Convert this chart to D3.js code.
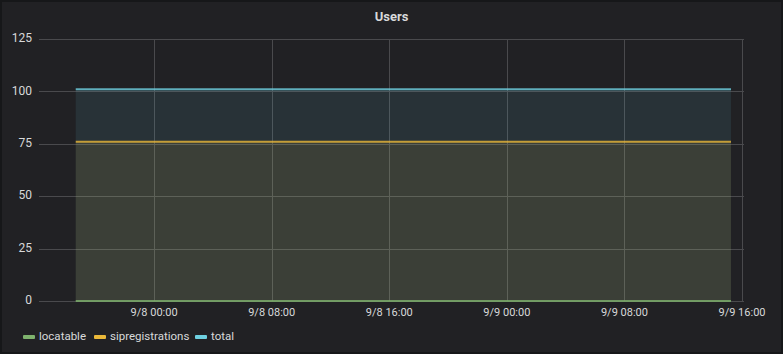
<!DOCTYPE html>
<html>
<head>
<meta charset="utf-8">
<script src="https://cdn.jsdelivr.net/npm/d3@7"></script>
<style>
  html, body { margin: 0; padding: 0; background: #161719; }
  #chart { width: 783px; height: 354px; }
  text { font-family: Roboto, "Helvetica Neue", Arial, sans-serif; }
</style>
</head>
<body>
<div id="chart"></div>
<script>
// Sample times (ISO strings) and values for each series
const times = [
	'2019-09-07T18:40', '2019-09-08T00:00', '2019-09-08T08:00', '2019-09-08T16:00',
	'2019-09-09T00:00', '2019-09-09T08:00', '2019-09-09T15:15'
];
const locatable = [0, 0, 0, 0, 0, 0, 0];
const sipregistrations = [76, 76, 76, 76, 76, 76, 76];
const total = [101, 101, 101, 101, 101, 101, 101];

const seriesNames = ['locatable', 'sipregistrations', 'total'];
const seriesColors = ['#7eb26d', '#eab839', '#6ed0e0'];
const yTicks = [0, 25, 50, 75, 100, 125];
const xTicks = ['2019-09-08T00:00', '2019-09-08T08:00', '2019-09-08T16:00',
	'2019-09-09T00:00', '2019-09-09T08:00', '2019-09-09T16:00'];
const xDomain = ['2019-09-07T16:10', '2019-09-09T16:00'];

const width = 783;
const height = 354;
const marginTop = 39;
const marginRight = 41;
const marginBottom = 53;
const marginLeft = 39;

const parse = d3.timeParse('%Y-%m-%dT%H:%M');
const fmt = d3.timeFormat('%-m/%-d %H:%M');

const svg = d3.select('#chart')
	.append('svg')
	.attr('width', width)
	.attr('height', height);

// panel
svg.append('rect')
	.attr('x', 2).attr('y', 2)
	.attr('width', width - 4).attr('height', height - 4)
	.attr('fill', '#212124');

// title
svg.append('text')
	.attr('x', width / 2)
	.attr('y', 18)
	.attr('text-anchor', 'middle')
	.attr('dominant-baseline', 'middle')
	.attr('fill', '#d8d9da')
	.style('font-size', '13px')
	.style('font-weight', 'bold')
	.text('Users');

const x = d3.scaleTime()
	.domain(xDomain.map(parse))
	.range([marginLeft, width - marginRight]);

const y = d3.scaleLinear()
	.domain([0, 125])
	.range([height - marginBottom, marginTop]);

// grid
svg.append('g')
	.selectAll('line')
	.data(yTicks)
	.join('line')
	.attr('x1', marginLeft)
	.attr('x2', x(parse(xTicks[xTicks.length - 1])) + 2)
	.attr('y1', (d) => Math.round(y(d)) + 0.5)
	.attr('y2', (d) => Math.round(y(d)) + 0.5)
	.attr('stroke', '#4a4a4d')
	.attr('stroke-width', 1);

svg.append('g')
	.selectAll('line')
	.data(xTicks.map(parse))
	.join('line')
	.attr('x1', (d) => Math.round(x(d)) + 0.5)
	.attr('x2', (d) => Math.round(x(d)) + 0.5)
	.attr('y1', y(125))
	.attr('y2', y(0))
	.attr('stroke', '#4a4a4d')
	.attr('stroke-width', 1);

// series
const dates = times.map(parse);
const seriesData = [locatable, sipregistrations, total];

const area = d3.area()
	.x((d) => x(d[0]))
	.y0(y(0))
	.y1((d) => y(d[1]));

const line = d3.line()
	.x((d) => x(d[0]))
	.y((d) => y(d[1]));

// fills first (total underneath)
[2, 1, 0].forEach((i) => {
	const pts = dates.map((t, j) => [t, seriesData[i][j]]);
	svg.append('path')
		.datum(pts)
		.attr('d', area)
		.attr('fill', seriesColors[i])
		.attr('fill-opacity', 0.1);
});

[2, 1, 0].forEach((i) => {
	const pts = dates.map((t, j) => [t, seriesData[i][j]]);
	svg.append('path')
		.datum(pts)
		.attr('d', line)
		.attr('fill', 'none')
		.attr('stroke', seriesColors[i])
		.attr('stroke-width', 2)
		.attr('stroke-opacity', 0.8);
});

// y labels
svg.append('g')
	.selectAll('text')
	.data(yTicks)
	.join('text')
	.attr('x', 32)
	.attr('y', (d) => y(d))
	.attr('text-anchor', 'end')
	.attr('dominant-baseline', 'middle')
	.attr('fill', '#d8d9da')
	.style('font-size', '12px')
	.text((d) => d);

// x labels
svg.append('g')
	.selectAll('text')
	.data(xTicks.map(parse))
	.join('text')
	.attr('x', (d) => x(d))
	.attr('y', 313)
	.attr('text-anchor', 'middle')
	.attr('dominant-baseline', 'middle')
	.attr('fill', '#d8d9da')
	.style('font-size', '11px')
	.text((d) => fmt(d));

// legend
const legendX = [23, 94, 195];
const legend = svg.append('g')
	.selectAll('g')
	.data(seriesNames)
	.join('g')
	.attr('transform', (d, i) => 'translate(' + [legendX[i], 337] + ')');

legend.append('rect')
	.attr('x', 0).attr('y', -2)
	.attr('width', 12).attr('height', 4)
	.attr('rx', 1)
	.attr('fill', (d, i) => seriesColors[i]);

legend.append('text')
	.attr('x', 16)
	.attr('y', 0)
	.attr('dominant-baseline', 'middle')
	.attr('fill', '#d8d9da')
	.style('font-size', '11.5px')
	.text((d) => d);
</script>
</body>
</html>
